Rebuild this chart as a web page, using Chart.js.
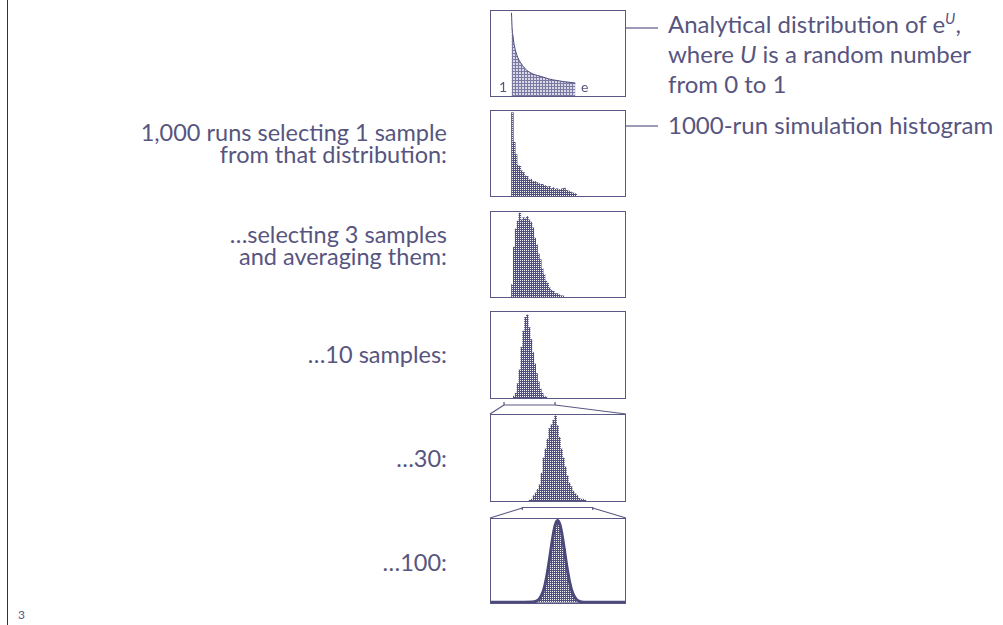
<!DOCTYPE html>
<html>
<head>
<meta charset="utf-8">
<script src="https://cdn.jsdelivr.net/npm/chart.js@4.4.0/dist/chart.umd.min.js"></script>
<style>
html, body { margin: 0; padding: 0; background: #fff; }
body { width: 1003px; height: 625px; position: relative; overflow: hidden;
       font-family: Lato, "Open Sans", sans-serif; color: #57557f; }
.box { position: absolute; left: 490px; width: 136px; border: 1.5px solid #5a5885; box-sizing: border-box; }
.txt { position: absolute; font-size: 23.5px; line-height: 22px; white-space: nowrap; }
.left { right: 556px; text-align: right; }
.right { left: 668px; font-size: 24px; }
sup { font-size: 15px; line-height: 0; }
#rule { position: absolute; left: 7px; top: 0; width: 1px; height: 625px; background: #333; }
#overlay { position: absolute; left: 0; top: 0; pointer-events: none; }
</style>
</head>
<body>
<div id="rule"></div>
<div class="txt" style="left:18px;top:604px;font-size:12px;">3</div>

<div class="box" style="top:10px;height:87px"><canvas id="c1"></canvas></div>
<div class="box" style="top:110px;height:87px"><canvas id="c2"></canvas></div>
<div class="box" style="top:211px;height:87px"><canvas id="c3"></canvas></div>
<div class="box" style="top:311px;height:88px"><canvas id="c4"></canvas></div>
<div class="box" style="top:414px;height:88px"><canvas id="c5"></canvas></div>
<div class="box" style="top:518px;height:86px"><canvas id="c6"></canvas></div>

<div class="txt" style="left:499px;top:80px;font-size:14px;line-height:14px">1</div>
<div class="txt" style="left:581px;top:80px;font-size:14px;line-height:14px">e</div>

<div class="txt left" style="top:121px">1,000 runs selecting 1 sample<br>from that distribution:</div>
<div class="txt left" style="top:223px">…selecting 3 samples<br>and averaging them:</div>
<div class="txt left" style="top:343px">…10 samples:</div>
<div class="txt left" style="top:447px">…30:</div>
<div class="txt left" style="top:551px">…100:</div>

<div class="txt right" style="top:9px;line-height:30px">Analytical distribution of e<sup><i>U</i></sup>,<br>where <i>U</i> is a random number<br>from 0 to 1</div>
<div class="txt right" style="top:114px">1000-run simulation histogram</div>

<canvas id="overlay" width="1003" height="625"></canvas>

<script>
// x range of each panel (value of the sample mean)
var fullRange = [0.45, 4.05];
var range30 = [0.80, 2.17];
var range100 = [1.12, 1.84];

// analytical density of e^U
var densityX = [1.00, 1.02, 1.04, 1.06, 1.08, 1.10, 1.15, 1.20, 1.25, 1.35, 1.45, 1.60, 1.80, 2.00, 2.20, 2.40, 2.60, 2.718];
var densityY = [2.77, 2.20, 2.00, 1.80, 1.67, 1.55, 1.35, 1.20, 1.10, 0.93, 0.82, 0.72, 0.65, 0.57, 0.52, 0.48, 0.45, 0.43];

// histograms: left edge of first bin, bin width, counts
var oneStart = 1.00, oneWidth = 0.05;
var oneCounts = [149, 96, 74, 55, 53, 45, 42, 36, 35, 29, 30, 26, 26, 24, 23, 20, 21, 19, 18, 16, 17, 13, 15, 12, 13, 11, 12, 13, 14, 10, 9, 8, 6, 5, 4];

var threeStart = 1.00, threeWidth = 0.05;
var threeCounts = [11, 44, 60, 67, 74, 68, 70, 69, 71, 68, 66, 61, 52, 46, 38, 33, 25, 20, 14, 12, 8, 6, 5, 3, 3, 2, 1, 1];

var tenStart = 1.05, tenWidth = 0.05;
var tenCounts = [3, 8, 24, 47, 85, 112, 135, 139, 118, 98, 76, 57, 41, 27, 15, 8, 3, 2];

var thirtyStart = 1.19, thirtyWidth = 0.02;
var thirtyCounts = [1, 2, 6, 9, 13, 18, 31, 48, 58, 69, 81, 85, 90, 95, 84, 71, 58, 48, 38, 28, 20, 16, 11, 8, 6, 3, 2, 2, 1];

var hundredStart = 1.30, hundredWidth = 0.01;
var hundredCounts = [0, 0, 0, 0, 1, 1, 2, 3, 6, 10, 17, 27, 40, 56, 72, 88, 95, 104, 99, 95, 79, 67, 49, 34, 23, 14, 8, 4, 2, 1, 1];

// normal curve drawn over the last histogram
var normalX = [1.12, 1.30, 1.34, 1.36, 1.38, 1.40, 1.41, 1.42, 1.43, 1.44, 1.45, 1.46, 1.47, 1.478, 1.49, 1.50, 1.51, 1.52, 1.53, 1.54, 1.55, 1.56, 1.58, 1.60, 1.64, 1.84];
var normalY = [0, 0, 0.2, 1.0, 4.1, 13.4, 21.8, 33.3, 47.7, 63.4, 79.2, 92.4, 100.8, 103, 98.1, 87.6, 73, 57, 41.6, 28.4, 18.1, 10.9, 3.1, 0.7, 0, 0];

var ink = '#4b4979';

function stipple(dark, light, size) {
    var c = document.createElement('canvas');
    c.width = size; c.height = size;
    var g = c.getContext('2d');
    g.fillStyle = light; g.fillRect(0, 0, size, size);
    g.fillStyle = dark;
    if (size == 2) {
        g.fillRect(0, 0, 1, 2);
        g.fillRect(1, 1, 1, 1);
    } else {
        g.fillRect(0, 0, size, 1);
        g.fillRect(0, 0, 1, size);
    }
    return g.createPattern(c, 'repeat');
}
var barFill = stipple('#514f80', '#f4f4f8', 2);
var areaFill = stipple('#7c7aa3', '#d9d8e6', 3);

function bins(start, width, counts) {
    return counts.map(function (c, i) { return { x: start + width * (i + 0.5), y: c }; });
}
function pairs(xs, ys) {
    return xs.map(function (x, i) { return { x: x, y: ys[i] }; });
}

function opts(range, ymin, ymax) {
    return {
        responsive: true,
        maintainAspectRatio: false,
        animation: false,
        events: [],
        layout: { padding: 0 },
        plugins: { legend: { display: false }, tooltip: { enabled: false } },
        scales: {
            x: { type: 'linear', min: range[0], max: range[1], offset: false,
                 grid: { offset: false }, display: false },
            y: { min: ymin, max: ymax, display: false }
        }
    };
}

function histChart(id, range, ymax, data) {
    return new Chart(document.getElementById(id), {
        type: 'bar',
        data: { datasets: [{ data: data, backgroundColor: barFill, borderWidth: 0,
                             barPercentage: 1, categoryPercentage: 1 }] },
        options: opts(range, 0, ymax)
    });
}

var chart1 = new Chart(document.getElementById('c1'), {
    type: 'line',
    data: { datasets: [{ data: pairs(densityX, densityY), borderColor: ink, borderWidth: 1,
                         backgroundColor: areaFill, fill: 'origin', pointRadius: 0,
                         cubicInterpolationMode: 'monotone' }] },
    options: opts(fullRange, 0, 2.83)
});
var chart2 = histChart('c2', fullRange, 152, bins(oneStart, oneWidth, oneCounts));
var chart3 = histChart('c3', fullRange, 75, bins(threeStart, threeWidth, threeCounts));
var chart4 = histChart('c4', fullRange, 144, bins(tenStart, tenWidth, tenCounts));
var chart5 = histChart('c5', range30, 96, bins(thirtyStart, thirtyWidth, thirtyCounts));

var chart6 = new Chart(document.getElementById('c6'), {
    type: 'bar',
    data: { datasets: [
        { type: 'line', data: pairs(normalX, normalY), borderColor: ink, borderWidth: 3,
          pointRadius: 0, fill: false, cubicInterpolationMode: 'monotone', order: 0 },
        { data: bins(hundredStart, hundredWidth, hundredCounts), backgroundColor: barFill,
          borderWidth: 0, barPercentage: 1, categoryPercentage: 1, order: 1 }
    ] },
    options: opts(range100, -1, 105)
});

// leaders and zoom brackets
var ov = document.getElementById('overlay').getContext('2d');
ov.strokeStyle = '#5a5885';
ov.lineWidth = 1.2;
function line(pts) {
    ov.beginPath();
    ov.moveTo(pts[0][0], pts[0][1]);
    for (var i = 1; i < pts.length; i++) ov.lineTo(pts[i][0], pts[i][1]);
    ov.stroke();
}
line([[626, 28], [658, 28]]);
line([[626, 126], [658, 126]]);

function pageX(chart, v) {
    var r = chart.canvas.getBoundingClientRect();
    return r.left + chart.scales.x.getPixelForValue(v);
}
// bracket under the 10-sample panel -> 30-sample panel
var a = pageX(chart4, range30[0]), b = pageX(chart4, range30[1]);
line([[a, 402], [a, 405], [b, 405], [b, 402]]);
line([[a, 405], [490, 414]]);
line([[b, 405], [626, 414]]);
// bracket under the 30-sample panel -> 100-sample panel
a = pageX(chart5, range100[0]); b = pageX(chart5, range100[1]);
line([[a, 510], [a, 507.5], [b, 507.5], [b, 510]]);
line([[a, 508], [490, 518]]);
line([[b, 508], [626, 518]]);
</script>
</body>
</html>
